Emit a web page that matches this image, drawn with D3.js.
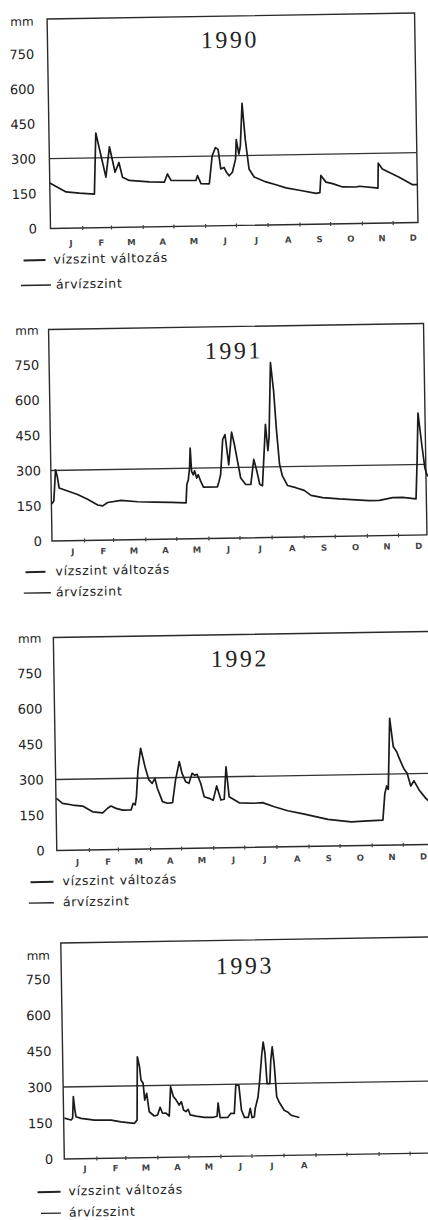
<!DOCTYPE html>
<html>
<head>
<meta charset="utf-8">
<script src="https://cdn.jsdelivr.net/npm/d3@7"></script>
<style>
  body { margin: 0; background: #fff; }
  svg text { fill: #222; }
</style>
</head>
<body>
<div id="chart"></div>
<script>
// month labels and day-of-year where each month starts
var months = ["J","F","M","A","M","J","J","A","S","O","N","D"];
var monthStarts = [0,31,59,90,120,151,181,212,243,273,304,334,365];
var yTicks = [0,150,300,450,600,750];
var floodLevel = 300;
var legendLabels = ["vízszint változás", "árvízszint"];

// 1990 (day of year, mm)
var days1990 = [0,15.8,28.8,43.4,45.7,54.9,58.8,63.9,67.8,71.1,77.6,97.1,111.8,115,118.3,142.7,144.3,147.6,155.7,158.9,162.2,164.8,167.1,170.3,172.6,175.2,178.4,181.7,182.7,185,186.6,188.9,191.5,193.1,194.7,199.6,211,220.8,230.5,243.5,259.8,263.5,264.7,269.6,276,285.8,298.9,302.1,318.4,320.2,320.9,324.8,341.1,354.1,359];
var level1990 = [195,156,150,145,407,217,347,237,279,215,201,193,191,226,198,196,217,182,181,300,336,328,244,250,229,214,229,285,369,306,341,524,369,305,242,207,185,172,158,147,132,135,209,180,173,158,157,160,152,150,258,232,196,163,163];

// 1991
var days1991 = [0.3,2.4,4.5,6.1,7.7,12.5,25.4,35,44.7,49.5,54.3,67.3,83.3,99.4,115.5,130,131,132.5,133.9,134.8,135.8,137.4,138.7,140.6,142.2,144.5,147,160.5,162.2,163.8,166.3,168.6,171.8,175,177.6,179.8,183.1,187.9,192.8,196,197.6,199.1,201.4,204,206.6,207.8,209.8,211.1,213.6,216.2,218.4,220.8,223.3,228.1,236.2,244.2,250.7,261.9,278,294.1,306.9,316.6,329.4,339.1,352,353.6,355.2,358.4,361,362.9,365];
var level1991 = [158,170,303,274,225,217,196,175,150,146,160,168,161,158,156,153,230,251,301,386,286,272,289,258,272,243,219,219,243,271,420,441,312,451,397,340,255,227,227,333,305,277,227,220,397,482,369,425,744,624,454,312,262,220,210,198,176,166,159,154,150,150,161,161,154,313,519,384,285,256,245];

// 1992
var days1992 = [0.5,6.3,15.9,25.6,35.2,44.9,49.7,53,57.8,64.2,72.3,74.5,76.4,77.7,79.6,82.5,86.8,90,93.1,95.8,98,102.8,107.6,112.5,115.7,119.6,122.1,125.4,128.6,131.8,134.1,136.6,139.9,143.1,147.9,151.7,155.3,159.2,162.4,164.6,167.2,176.8,191.3,199.3,210.6,223.5,239.6,262.1,284.7,300.7,315.2,317.5,319.4,320.9,323.3,326.4,329.6,331.3,332.9,336.1,339.3,342.6,345.8,350.6,357,362];
var level1992 = [220,199,191,186,161,156,175,184,174,166,166,194,187,222,335,426,341,292,277,298,256,199,192,194,290,367,317,282,275,317,309,312,274,217,210,202,262,202,205,342,215,189,186,188,170,152,137,113,101,104,106,219,250,236,535,415,394,373,356,323,302,248,270,231,195,175];

// 1993 (record ends in August)
var days1993 = [0.7,7.2,8.7,9.7,11,12,16.8,29.7,45.8,55.5,68.4,71,72.2,74.2,75.4,77.4,78.7,80.7,82.9,87.7,90.9,93.5,95.7,99,102.2,103.9,106.4,108.7,111.9,114.1,116.1,118.4,120.6,122.5,128,136.1,144.1,148.4,149.6,151.3,158.6,161.9,165.1,167,169.9,172.1,174.8,178.6,180.6,182.2,184.4,185.4,188.3,190.2,192.5,194.1,195.7,197.3,199.9,201.2,202.8,204.4,206.4,208.6,213.4,216.6,219.9,228];
var level1993 = [170,162,169,259,204,175,168,160,159,151,144,157,421,379,324,310,240,268,191,173,177,209,184,184,172,294,253,241,217,231,196,189,198,175,170,164,163,168,223,162,162,179,178,296,296,192,161,161,198,160,162,197,245,315,419,474,426,300,300,398,453,383,244,223,188,181,167,157];

var years = ["1990","1991","1992","1993"];
var allDays = [days1990, days1991, days1992, days1993];
var allLevels = [level1990, level1991, level1992, level1993];

// placement of each scanned panel on the page
var layout = [
  {x0: 50.5, y0: 228.5, pxDay: 1.0245, h: 209.5, right: 418, tx: 233, ty: 42, mmY: 23, lab: 13.5, mdy: 15, nMonths: 12,
   leg: [[23,45,260,53],[20,50,285,55]]},
  {x0: 52, y0: 541, pxDay: 1.036, h: 211.5, right: 427, tx: 237, ty: 353, mmY: 332, lab: 10, mdy: 11, nMonths: 12,
   leg: [[25,45,571.7,55],[23,50,592.7,55]]},
  {x0: 56.8, y0: 850.5, pxDay: 1.036, h: 213, right: 445, tx: 243, ty: 661, mmY: 640, lab: 12, mdy: 12, nMonths: 12,
   leg: [[30,53,881.7,62],[28,53,902.7,62]]},
  {x0: 64.3, y0: 1159, pxDay: 1.034, h: 216, right: 445, tx: 248, ty: 968, mmY: 957, lab: 11, mdy: 10, nMonths: 8,
   leg: [[37,60,1191.7,68],[40,60,1213,68]]}
];

var svg = d3.select("#chart")
  .append("svg")
    .attr("width", 428)
    .attr("height", 1220);

svg.append("rect").attr("width", 428).attr("height", 1220).attr("fill", "#fff");

layout.forEach(function(p, i) {
  var x = d3.scaleLinear().domain([0, 365]).range([p.x0, p.x0 + 365 * p.pxDay]);
  var y = d3.scaleLinear().domain([0, 900]).range([p.y0, p.y0 - p.h]);

  // the scan is turned about one degree
  var g = svg.append("g")
    .attr("transform", "rotate(-0.93," + p.x0 + "," + p.y0 + ")");

  // frame
  g.append("path")
    .attr("d", "M" + p.x0 + "," + y(900) + "H" + p.right + "V" + p.y0 + "H" + p.x0 + "Z")
    .attr("fill", "none")
    .attr("stroke", "#2a2a2a")
    .attr("stroke-width", 1.4);

  // month ticks straddling the bottom line
  var xAxis = g.append("g")
    .attr("transform", "translate(0," + (p.y0 - 2) + ")")
    .call(d3.axisBottom(x).tickValues(monthStarts.slice(1, 12)).tickSize(4).tickFormat(""));
  xAxis.select(".domain").remove();
  xAxis.selectAll("line").attr("stroke", "#444").attr("stroke-width", 1.2);

  // month letters
  g.selectAll(".month")
    .data(months.slice(0, p.nMonths))
    .enter()
    .append("text")
    .attr("x", function(d, k) { return x((monthStarts[k] + monthStarts[k + 1]) / 2) + 4.5; })
    .attr("y", p.y0 + p.mdy + 3)
    .attr("text-anchor", "middle")
    .style("font-family", "DejaVu Sans")
    .style("font-size", "8.5px")
    .style("font-weight", "bold")
    .style("fill", "#444")
    .text(function(d) { return d; });

  // y labels
  var yAxis = g.append("g")
    .attr("transform", "translate(" + (p.x0 - p.lab) + ",0)")
    .call(d3.axisLeft(y).tickValues(yTicks).tickSize(0).tickPadding(0));
  yAxis.select(".domain").remove();
  yAxis.selectAll("text")
    .style("font-family", "DejaVu Sans")
    .style("font-size", "13px")
    .style("fill", "#222");

  g.append("text")
    .attr("x", p.x0 - p.lab)
    .attr("y", p.mmY)
    .attr("dy", "0.2em")
    .attr("text-anchor", "end")
    .style("font-family", "DejaVu Sans")
    .style("font-size", "12px")
    .text("mm");

  // flood level
  g.append("line")
    .attr("x1", p.x0)
    .attr("x2", p.right)
    .attr("y1", y(floodLevel))
    .attr("y2", y(floodLevel))
    .attr("stroke", "#333")
    .attr("stroke-width", 1.3);

  // water level
  var line = d3.line()
    .x(function(d) { return x(d[0]); })
    .y(function(d) { return y(d[1]); });
  g.append("path")
    .datum(d3.zip(allDays[i], allLevels[i]))
    .attr("d", line)
    .attr("fill", "none")
    .attr("stroke", "#1a1a1a")
    .attr("stroke-width", 1.7)
    .attr("stroke-linejoin", "round");

  // year title
  g.append("text")
    .attr("x", p.tx)
    .attr("y", p.ty)
    .attr("dy", "0.36em")
    .attr("text-anchor", "middle")
    .style("font-family", "Liberation Serif")
    .style("font-size", "24px")
    .style("letter-spacing", "2.5px")
    .text(years[i]);

  // legend
  p.leg.forEach(function(l, k) {
    g.append("line")
      .attr("x1", l[0]).attr("x2", l[1])
      .attr("y1", l[2]).attr("y2", l[2])
      .attr("stroke", "#222")
      .attr("stroke-width", k == 0 ? 2 : 1.3);
    g.append("text")
      .attr("x", l[3])
      .attr("y", l[2])
      .attr("dy", "0.3em")
      .style("font-family", "DejaVu Sans")
      .style("font-size", "12.5px")
      .style("letter-spacing", "0.7px")
      .text(legendLabels[k]);
  });
});
</script>
</body>
</html>
